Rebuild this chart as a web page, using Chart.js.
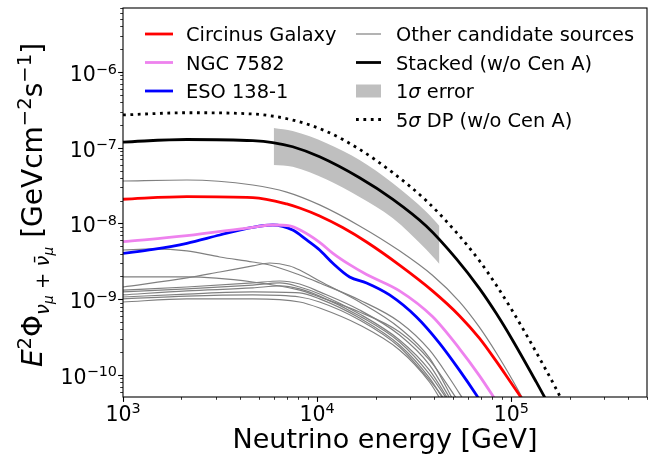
<!DOCTYPE html>
<html><head><meta charset="utf-8">
<script src="https://cdn.jsdelivr.net/npm/chart.js@4.4.1/dist/chart.umd.min.js"></script>
<style>html,body{margin:0;padding:0;background:#fff;}canvas{display:block;}</style>
</head><body>
<canvas id="c" width="654" height="458" style="width:654px;height:458px"></canvas>
<script>
// ---------- data (energy in GeV, E^2 Phi in GeV cm^-2 s^-1) ----------
const xTickValues = [1e3, 1e4, 1e5];
const xTickLabels = ['10³', '10⁴', '10⁵'];
const yTickValues = [1e-10, 1e-9, 1e-8, 1e-7, 1e-6];
const yTickLabels = ['10⁻¹⁰', '10⁻⁹', '10⁻⁸', '10⁻⁷', '10⁻⁶'];

const stackedE    = [1000, 2133, 4660, 5905, 7482, 10300, 16540, 24450, 36560, 52140, 68470, 83770, 101200, 134400, 156800];
const stackedFlux = [1.19e-7, 1.285e-7, 1.24e-7, 1.17e-7, 1.03e-7, 7.6e-8, 4.02e-8, 2.10e-8, 9.2e-9, 3.41e-9, 1.39e-9, 6.46e-10, 2.92e-10, 8.1e-11, 3.95e-11];

const dpE    = [1000, 2133, 4660, 7482, 11190, 16540, 24450, 36560, 52140, 68470, 83770, 101200, 123800, 151300, 166400, 186200];
const dpFlux = [2.71e-7, 2.90e-7, 2.79e-7, 2.32e-7, 1.64e-7, 9.53e-8, 4.72e-8, 1.99e-8, 7.62e-9, 3.23e-9, 1.53e-9, 7.06e-10, 2.90e-10, 1.15e-10, 7.33e-11, 4.17e-11];

const bandE    = [5975, 7482, 11190, 16540, 24450, 36560, 42640];
const bandHigh = [1.82e-7, 1.66e-7, 1.15e-7, 6.9e-8, 3.42e-8, 1.42e-8, 9.3e-9];
const bandLow  = [5.9e-8, 5.6e-8, 3.8e-8, 2.24e-8, 1.18e-8, 4.5e-9, 2.92e-9];

const circinusE    = [1000, 2133, 4660, 6970, 8128, 10300, 13530, 17970, 26560, 39260, 54030, 68470, 83770, 96500, 109900, 116600];
const circinusFlux = [2.09e-8, 2.26e-8, 2.19e-8, 1.81e-8, 1.60e-8, 1.256e-8, 8.83e-9, 5.69e-9, 2.82e-9, 1.29e-9, 6.07e-10, 3.06e-10, 1.51e-10, 8.93e-11, 5.47e-11, 4.36e-11];

const ngcE    = [1000, 2133, 4660, 5905, 7222, 8128, 10300, 12010, 14700, 17970, 26560, 39260, 54030, 68470, 78920, 82800];
const ngcFlux = [5.75e-9, 6.90e-9, 8.91e-9, 9.55e-9, 9.27e-9, 8.24e-9, 5.64e-9, 4.07e-9, 2.86e-9, 2.12e-9, 1.29e-9, 5.90e-10, 2.23e-10, 9.82e-11, 5.69e-11, 4.68e-11];

const esoE    = [1000, 1427, 2133, 3153, 4660, 5905, 7482, 8831, 10300, 12010, 14700, 17970, 23600, 32480, 42640, 54030, 66100, 70000];
const esoFlux = [4.04e-9, 4.56e-9, 5.48e-9, 7.05e-9, 8.91e-9, 9.55e-9, 8.21e-9, 6.06e-9, 4.47e-9, 3.01e-9, 1.97e-9, 1.64e-9, 1.14e-9, 5.83e-10, 2.64e-10, 1.16e-10, 5.44e-11, 4.3e-11];

const otherTopE    = [1000, 2133, 4660, 6970, 10300, 16540, 26560, 39260, 54030, 68470, 83770, 101200, 118000];
const otherTopFlux = [3.64e-8, 3.75e-8, 3.22e-8, 2.60e-8, 1.76e-8, 9.29e-9, 4.36e-9, 2.07e-9, 9.31e-10, 4.28e-10, 1.95e-10, 8.65e-11, 4.26e-11];

const other1E    = [1000, 1427, 2133, 3153, 4660, 5700, 8128, 10300, 16540, 26560, 37880, 48000, 58690];
const other1Flux = [4.47e-9, 4.61e-9, 4.34e-9, 3.61e-9, 3.10e-9, 2.83e-9, 2.09e-9, 1.64e-9, 9.77e-10, 5.01e-10, 2.14e-10, 9.13e-11, 4.1e-11];
const other2E    = [1000, 2133, 3153, 4660, 5700, 7222, 8128, 10300, 16540, 26560, 37880, 51530];
const other2Flux = [1.45e-9, 1.91e-9, 2.29e-9, 2.75e-9, 3.01e-9, 2.75e-9, 2.43e-9, 1.74e-9, 9.20e-10, 4.17e-10, 1.68e-10, 4.1e-11];
const other3E    = [1000, 2133, 4660, 8128, 10300, 16540, 26560, 37880, 54670];
const other3Flux = [1.97e-9, 1.97e-9, 1.69e-9, 1.32e-9, 1.07e-9, 6.79e-10, 3.70e-10, 1.58e-10, 4.1e-11];
const other4E    = [1000, 2133, 4660, 6417, 8128, 10300, 16540, 26560, 37880, 50330];
const other4Flux = [1.32e-9, 1.45e-9, 1.64e-9, 1.74e-9, 1.59e-9, 1.25e-9, 7.21e-10, 3.37e-10, 1.36e-10, 4.1e-11];
const other5E    = [1000, 2133, 4660, 6417, 8128, 10300, 16540, 26560, 37880, 49150];
const other5Flux = [1.25e-9, 1.37e-9, 1.54e-9, 1.64e-9, 1.45e-9, 1.17e-9, 6.39e-10, 2.90e-10, 1.16e-10, 4.1e-11];
const other6E    = [1000, 2133, 4660, 6417, 8128, 10300, 16540, 26560, 37880, 48580];
const other6Flux = [1.14e-9, 1.29e-9, 1.41e-9, 1.50e-9, 1.37e-9, 1.10e-9, 6.01e-10, 2.73e-10, 1.03e-10, 4.1e-11];
const other7E    = [1000, 2133, 4660, 8128, 10300, 16540, 26560, 37880, 46330];
const other7Flux = [1.07e-9, 1.17e-9, 1.25e-9, 1.21e-9, 1.01e-9, 5.65e-10, 2.49e-10, 9.13e-11, 4.1e-11];
const other8E    = [1000, 2133, 4660, 8128, 10300, 16540, 26560, 37880, 44710];
const other8Flux = [9.2e-10, 1.01e-9, 1.01e-9, 9.2e-10, 7.66e-10, 4.57e-10, 2.14e-10, 8.08e-11, 4.1e-11];
const other9E    = [1000, 2133, 4660, 8128, 10300, 16540, 26560, 37880, 47450];
const other9Flux = [1.01e-9, 1.10e-9, 1.14e-9, 1.07e-9, 9.2e-10, 5.32e-10, 2.34e-10, 8.59e-11, 4.1e-11];

// ---------- styling ----------
const FONT = 'DejaVu Sans';
const THICK = 2.8, THIN = 1.2;
const GRAY = '#808080';

function pts(E, F) { return E.map((e, i) => ({ x: e, y: F[i] })); }
function line(label, E, F, color, width, extra) {
  return Object.assign({
    label, data: pts(E, F), borderColor: color, borderWidth: width,
    pointRadius: 0, fill: false, cubicInterpolationMode: 'monotone', clip: 0,
    borderCapStyle: 'butt'
  }, extra || {});
}

const datasets = [
  line('Stacked (w/o Cen A)', stackedE, stackedFlux, '#000000', THICK),
  line('5σ DP (w/o Cen A)', dpE, dpFlux, '#000000', THICK, { borderDash: [2.8, 4.6] }),
  line('Circinus Galaxy', circinusE, circinusFlux, '#ff0000', THICK),
  line('NGC 7582', ngcE, ngcFlux, '#ee82ee', THICK),
  line('ESO 138-1', esoE, esoFlux, '#0000ff', THICK),
  line('1σ error', bandE, bandHigh, 'rgba(0,0,0,0)', 0, { fill: '+1', backgroundColor: '#bfbfbf' }),
  line('1σ error (low)', bandE, bandLow, 'rgba(0,0,0,0)', 0),
  line('Other candidate sources', otherTopE, otherTopFlux, GRAY, THIN),
  line('other 1', other1E, other1Flux, GRAY, THIN),
  line('other 2', other2E, other2Flux, GRAY, THIN),
  line('other 3', other3E, other3Flux, GRAY, THIN),
  line('other 4', other4E, other4Flux, GRAY, THIN),
  line('other 5', other5E, other5Flux, GRAY, THIN),
  line('other 6', other6E, other6Flux, GRAY, THIN),
  line('other 7', other7E, other7Flux, GRAY, THIN),
  line('other 8', other8E, other8Flux, GRAY, THIN),
  line('other 9', other9E, other9Flux, GRAY, THIN)
];

const SUP = { '⁰':'0','¹':'1','²':'2','³':'3','⁴':'4','⁵':'5','⁶':'6','⁷':'7','⁸':'8','⁹':'9','⁻':'−' };
function splitPow(label) {
  const base = label.slice(0, 2);
  const exp = Array.from(label.slice(2)).map(c => SUP[c] || c).join('');
  return { base, exp };
}

// matplotlib-like frame, ticks, tick labels, legend and y title
const axesPlugin = {
  id: 'mplAxes',
  afterDatasetsDraw(chart) {
    const { ctx, chartArea: a, scales: { x, y } } = chart;
    ctx.save();
    ctx.strokeStyle = '#000';
    for (let k = 2; k <= 6; k++) {
      for (let m = 1; m < 10; m++) {
        const v = m * Math.pow(10, k);
        if (v < x.min * 0.9999 || v > x.max * 1.0001) continue;
        const px = Math.round(x.getPixelForValue(v)) + 0.5;
        const L = m === 1 ? 4.9 : 2.8;
        ctx.lineWidth = m === 1 ? 1.1 : 0.8;
        ctx.beginPath(); ctx.moveTo(px, a.bottom); ctx.lineTo(px, a.bottom + L); ctx.stroke();
      }
    }
    for (let k = -12; k <= -5; k++) {
      for (let m = 1; m < 10; m++) {
        const v = m * Math.pow(10, k);
        if (v < y.min * 0.9999 || v > y.max * 1.0001) continue;
        const py = Math.round(y.getPixelForValue(v)) + 0.5;
        const L = m === 1 ? 4.9 : 2.8;
        ctx.lineWidth = m === 1 ? 1.1 : 0.8;
        ctx.beginPath(); ctx.moveTo(a.left, py); ctx.lineTo(a.left - L, py); ctx.stroke();
      }
    }
    ctx.lineWidth = 1.1;
    ctx.strokeRect(a.left, a.top, a.right - a.left, a.bottom - a.top);

    // tick labels in mathtext style: 10 with raised exponent
    const fb = '20.5px "' + FONT + '"', fe = '14.4px "' + FONT + '"';
    ctx.fillStyle = '#000';
    ctx.textBaseline = 'alphabetic';
    ctx.textAlign = 'left';
    xTickValues.forEach((v, i) => {
      const { base, exp } = splitPow(xTickLabels[i]);
      ctx.font = fb; const wb = ctx.measureText(base).width;
      ctx.font = fe; const we = ctx.measureText(exp).width;
      const px = x.getPixelForValue(v);
      const x0 = px - (wb + we) / 2;
      ctx.font = fb; ctx.fillText(base, x0, a.bottom + 23.5);
      ctx.font = fe; ctx.fillText(exp, x0 + wb, a.bottom + 15.5);
    });
    yTickValues.forEach((v, i) => {
      const { base, exp } = splitPow(yTickLabels[i]);
      ctx.font = fb; const wb = ctx.measureText(base).width;
      ctx.font = fe; const we = ctx.measureText(exp).width;
      const py = y.getPixelForValue(v);
      const x0 = a.left - 6 - (wb + we);
      ctx.font = fb; ctx.fillText(base, x0, py + 9);
      ctx.font = fe; ctx.fillText(exp, x0 + wb, py + 1.5);
    });
    ctx.restore();
  },
  afterDraw(chart) {
    const ctx = chart.ctx;
    const ds = chart.data.datasets;
    ctx.save();
    // ----- legend -----
    const fs = 19.4;
    const rowY = [34, 62.5, 91, 119.5];
    const col = [{ h0: 145, h1: 173, t: 186 }, { h0: 356, h1: 381, t: 396 }];
    function runs(x, yb, parts) {
      for (const p of parts) {
        ctx.font = (p.it ? 'italic ' : '') + fs + 'px "' + FONT + '"';
        ctx.fillText(p.t, x, yb);
        x += ctx.measureText(p.t).width;
      }
    }
    ctx.fillStyle = '#000';
    ctx.textBaseline = 'alphabetic';
    const capOff = 7.1;
    const entries = [
      { c: 0, r: 0, ds: 2, parts: [{ t: 'Circinus Galaxy' }] },
      { c: 0, r: 1, ds: 3, parts: [{ t: 'NGC 7582' }] },
      { c: 0, r: 2, ds: 4, parts: [{ t: 'ESO 138-1' }] },
      { c: 1, r: 0, ds: 7, parts: [{ t: 'Other candidate sources' }] },
      { c: 1, r: 1, ds: 0, parts: [{ t: 'Stacked (w/o Cen A)' }] },
      { c: 1, r: 2, ds: 5, patch: true, parts: [{ t: '1' }, { t: 'σ', it: true }, { t: ' error' }] },
      { c: 1, r: 3, ds: 1, parts: [{ t: '5' }, { t: 'σ', it: true }, { t: ' DP (w/o Cen A)' }] }
    ];
    for (const e of entries) {
      const C = col[e.c], yy = rowY[e.r], d = ds[e.ds];
      if (e.patch) {
        ctx.fillStyle = d.backgroundColor;
        ctx.fillRect(C.h0, yy - 6.5, C.h1 - C.h0, 13);
      } else {
        ctx.strokeStyle = d.borderColor;
        ctx.lineWidth = d.borderWidth;
        ctx.setLineDash(d.borderDash || []);
        ctx.beginPath(); ctx.moveTo(C.h0, yy); ctx.lineTo(C.h1, yy); ctx.stroke();
        ctx.setLineDash([]);
      }
      ctx.fillStyle = '#000';
      runs(C.t, yy + capOff, e.parts);
    }
    // ----- y axis title with sub/superscripts -----
    const big = 28, mid = 19.6, small = 13.7;
    const yr = [
      { t: 'E', s: big, it: true, d: 0 },
      { t: '2', s: mid, d: -11 },
      { t: 'Φ', s: big, d: 0 },
      { t: 'ν', s: mid, it: true, d: 7 },
      { t: 'μ', s: small, it: true, d: 11 },
      { t: ' + ', s: mid, d: 7 },
      { t: 'ν\u0304', s: mid, it: true, d: 7 },
      { t: 'μ', s: small, it: true, d: 11 },
      { t: ' [GeVcm', s: big, d: 0 },
      { t: '−2', s: mid, d: -11 },
      { t: 's', s: big, d: 0 },
      { t: '−1', s: mid, d: -11 },
      { t: ']', s: big, d: 0 }
    ];
    let total = 0;
    for (const r of yr) {
      ctx.font = (r.it ? 'italic ' : '') + r.s + 'px "' + FONT + '"';
      r.w = ctx.measureText(r.t).width; total += r.w;
    }
    ctx.translate(42, 205);
    ctx.rotate(-Math.PI / 2);
    let xx = -total / 2;
    for (const r of yr) {
      ctx.font = (r.it ? 'italic ' : '') + r.s + 'px "' + FONT + '"';
      ctx.fillText(r.t, xx, r.d);
      xx += r.w;
    }
    ctx.restore();
  }
};

new Chart(document.getElementById('c'), {
  type: 'line',
  data: { datasets },
  options: {
    responsive: false,
    animation: false,
    devicePixelRatio: 1,
    layout: { padding: { top: 8, right: 7, left: 0, bottom: 0 } },
    plugins: { legend: { display: false }, tooltip: { enabled: false } },
    scales: {
      x: {
        type: 'logarithmic', min: 1000, max: 5e5, position: 'bottom',
        grid: { display: false }, border: { display: false },
        afterBuildTicks: (s) => { s.ticks = xTickValues.map(v => ({ value: v })); },
        afterFit: (s) => { s.height = 61; },
        ticks: { display: false },
        title: { display: true, text: 'Neutrino energy [GeV]', color: '#000',
          font: { family: FONT, size: 27 }, padding: { top: 0, bottom: 1 } }
      },
      y: {
        type: 'logarithmic', min: 5.12e-11, max: 7.0e-6, position: 'left',
        grid: { display: false }, border: { display: false },
        afterBuildTicks: (s) => { s.ticks = yTickValues.map(v => ({ value: v })); },
        afterFit: (s) => { s.width = 123; },
        ticks: { display: false }
      }
    }
  },
  plugins: [axesPlugin]
});
</script>
</body></html>
